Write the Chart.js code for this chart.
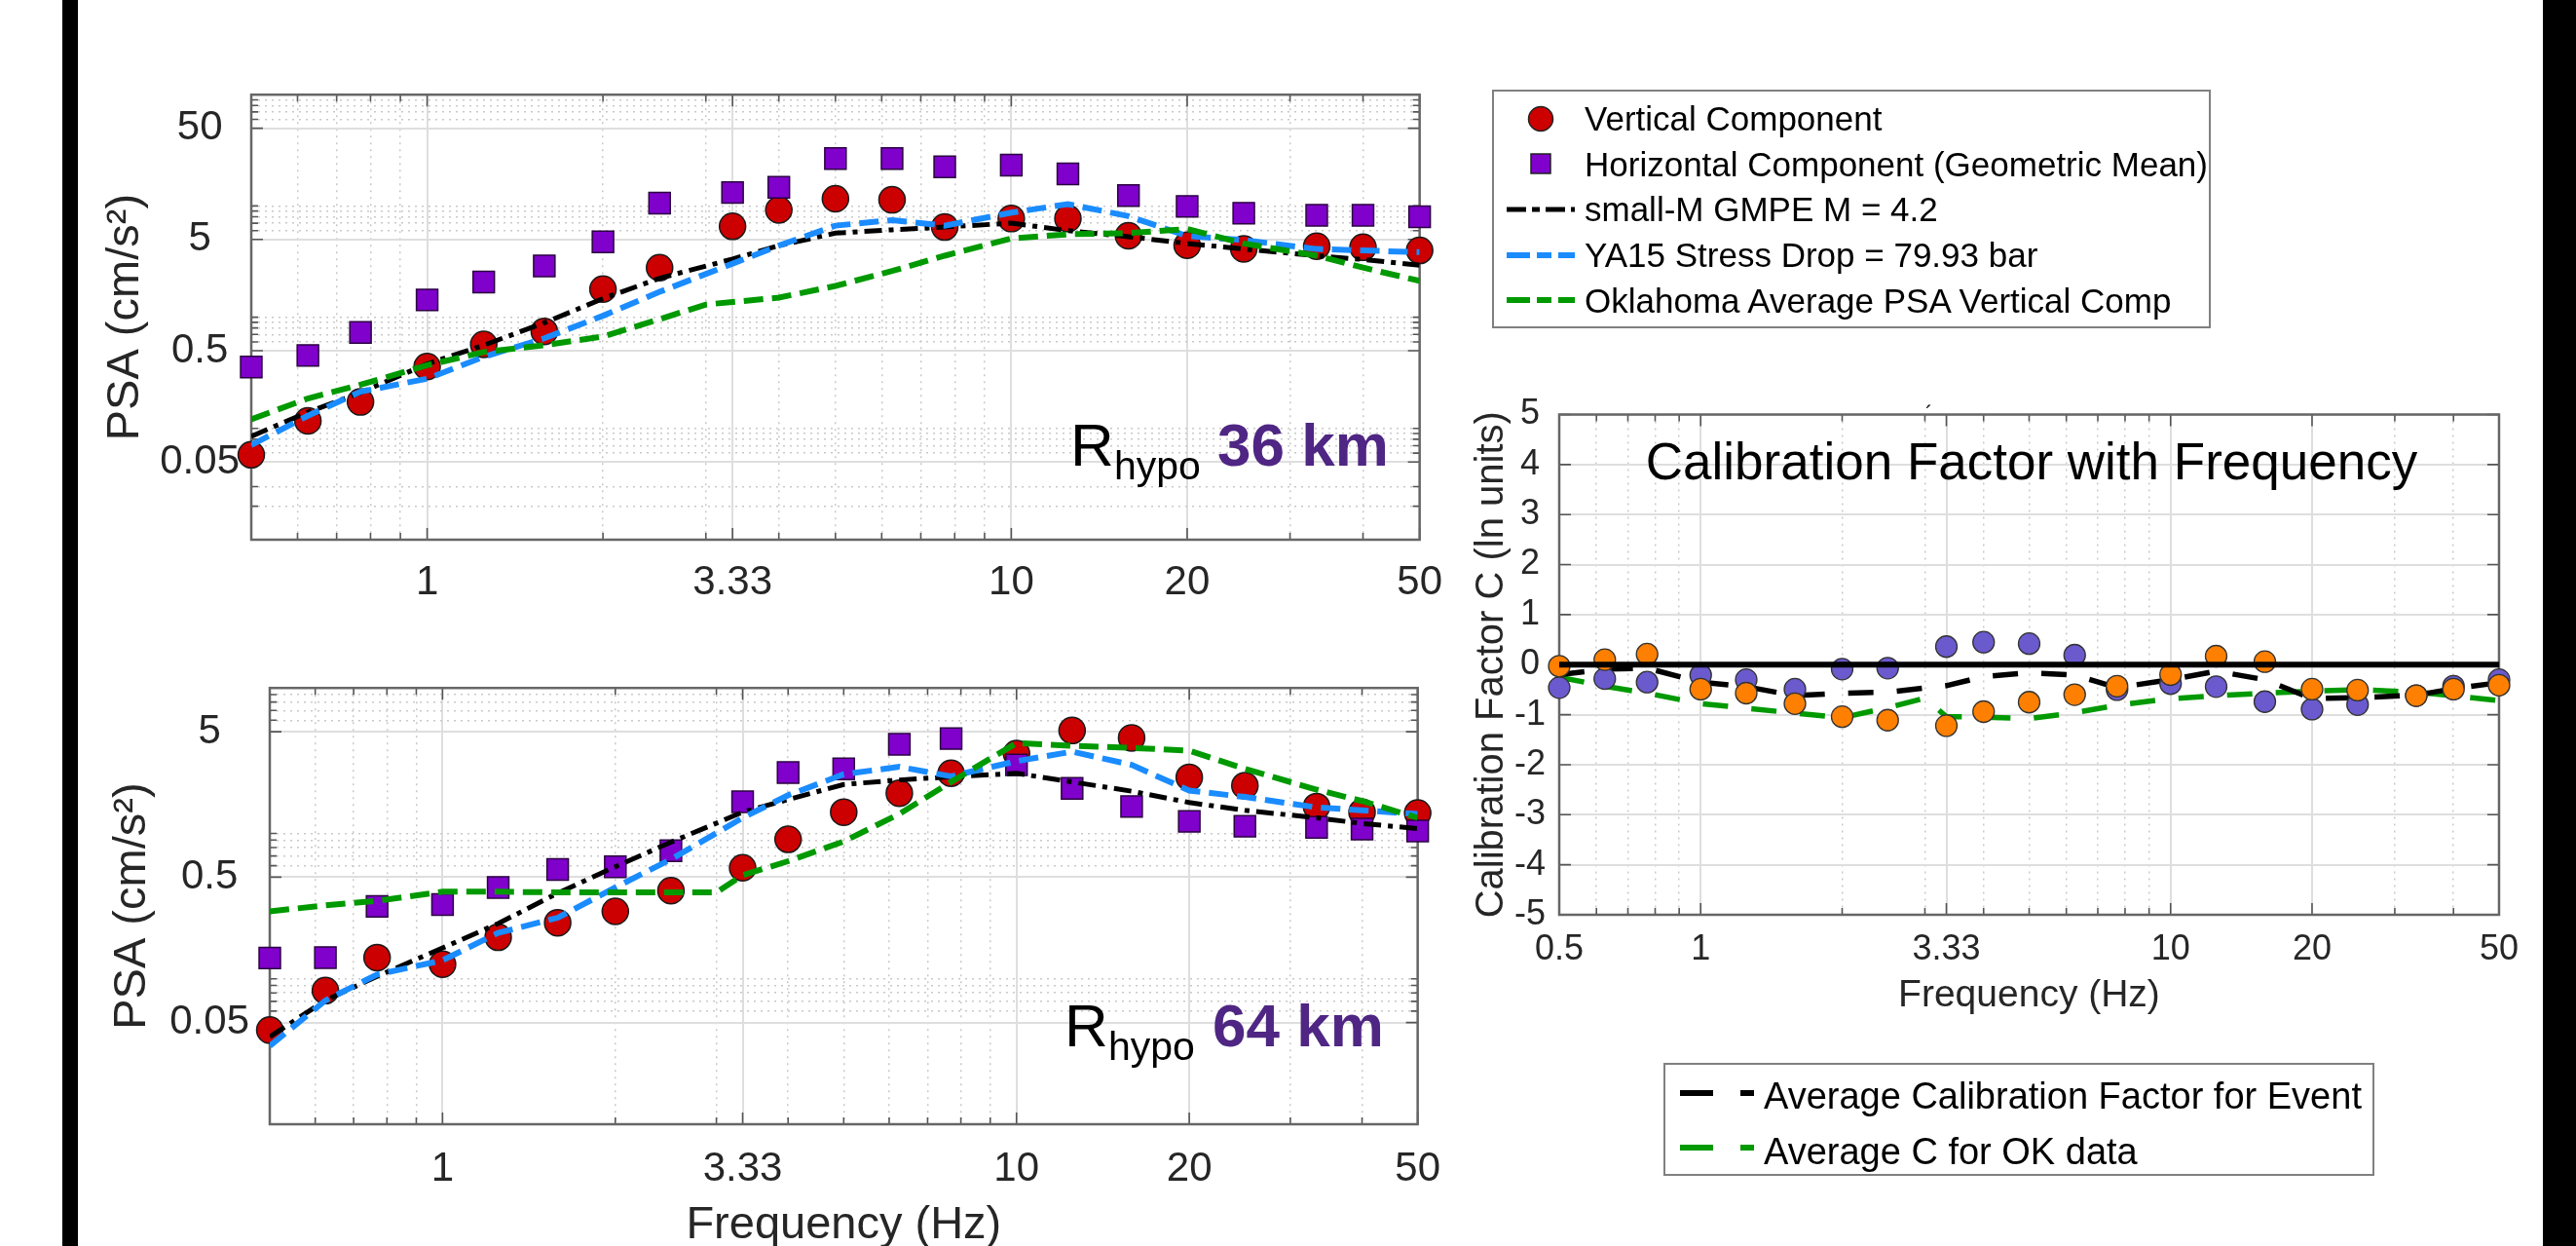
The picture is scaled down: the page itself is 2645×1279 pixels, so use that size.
<!DOCTYPE html>
<html>
<head>
<meta charset="utf-8">
<script src="https://cdn.jsdelivr.net/npm/chart.js@4.4.1/dist/chart.umd.min.js"></script>
<style>
  body { margin: 0; width: 2645px; height: 1279px; overflow: hidden; background: #fff; position: relative; }
  canvas { position: absolute; }
  #ov { position: absolute; left: 0; top: 0; pointer-events: none; }
</style>
</head>
<body>
<canvas id="c36" width="1399" height="580" style="left:101px;top:60px"></canvas>
<canvas id="c64" width="1392" height="640" style="left:108px;top:660px"></canvas>
<canvas id="cal" width="1092" height="680" style="left:1508px;top:380px"></canvas>

<svg id="ov" width="2645" height="1279" font-family="'Liberation Sans', Arial, sans-serif">
  <rect x="64" y="0" width="16" height="1279" fill="#000"/>
  <rect x="2611" y="0" width="34" height="1279" fill="#000"/>

  <!-- legend of the PSA panels -->
  <rect x="1533" y="93" width="736" height="243" fill="#fff" stroke="#808080" stroke-width="2"/>
  <circle cx="1582" cy="122" r="12.5" fill="#cc0000" stroke="#222" stroke-width="1.5"/>
  <rect x="1572" y="158" width="20" height="20" fill="#8000cc" stroke="#222" stroke-width="1.5"/>
  <line x1="1547" y1="215" x2="1617" y2="215" stroke="#000" stroke-width="5" stroke-dasharray="20 6 8 6"/>
  <line x1="1547" y1="262" x2="1617" y2="262" stroke="#1a8cff" stroke-width="6" stroke-dasharray="24 7 15 7"/>
  <line x1="1547" y1="308" x2="1617" y2="308" stroke="#009900" stroke-width="6" stroke-dasharray="24 7 15 7"/>
  <g font-size="35" fill="#000">
    <text x="1627" y="134">Vertical Component</text>
    <text x="1627" y="181">Horizontal Component (Geometric Mean)</text>
    <text x="1627" y="227">small-M GMPE M = 4.2</text>
    <text x="1627" y="274">YA15 Stress Drop = 79.93 bar</text>
    <text x="1627" y="321">Oklahoma Average PSA Vertical Comp</text>
  </g>

  <!-- distance labels -->
  <text x="1099" y="478" font-size="62" fill="#000">R</text>
  <text x="1144" y="492" font-size="41" fill="#000">hypo</text>
  <text x="1250" y="478" font-size="62" font-weight="bold" fill="#4f2683">36 km</text>
  <text x="1093" y="1074" font-size="62" fill="#000">R</text>
  <text x="1138" y="1088" font-size="41" fill="#000">hypo</text>
  <text x="1245" y="1074" font-size="62" font-weight="bold" fill="#4f2683">64 km</text>

  <!-- calibration panel title -->
  <text x="1977" y="432" font-size="22" fill="#000">´</text>
  <text x="2086" y="492" font-size="53" fill="#000" text-anchor="middle">Calibration Factor with Frequency</text>

  <!-- legend of the calibration panel -->
  <rect x="1709" y="1092" width="728" height="114" fill="#fff" stroke="#808080" stroke-width="2"/>
  <line x1="1725" y1="1122" x2="1801" y2="1122" stroke="#000" stroke-width="6" stroke-dasharray="34 28 14 100"/>
  <line x1="1725" y1="1178" x2="1801" y2="1178" stroke="#009900" stroke-width="6" stroke-dasharray="34 28 14 100"/>
  <g font-size="38" fill="#000">
    <text x="1811" y="1138">Average Calibration Factor for Event</text>
    <text x="1811" y="1195">Average C for OK data</text>
  </g>
</svg>

<script>
// frequencies (Hz)
const freqs   = [0.5, 0.625, 0.769, 1, 1.25, 1.587, 2, 2.5, 3.333, 4, 5, 6.25, 7.692, 10, 12.5, 15.87, 20, 25, 33.33, 40, 50];
const freqsOK = [0.5, 0.625, 0.769, 1, 1.25, 1.587, 2, 2.5, 3, 3.333, 4, 5, 6.25, 7.692, 10, 12.5, 15.87, 20, 25, 33.33, 40, 50];

// PSA, Rhypo 36 km
const vert36  = [0.058, 0.117, 0.173, 0.36, 0.57, 0.745, 1.79, 2.79, 6.56, 9.2, 11.6, 11.35, 6.46, 7.7, 7.7, 5.4, 4.43, 4.12, 4.34, 4.25, 3.98];
const horiz36 = [0.357, 0.453, 0.73, 1.43, 2.07, 2.89, 4.75, 10.6, 13.2, 14.7, 26.7, 26.7, 22.5, 23.3, 19.4, 12.4, 9.9, 8.6, 8.24, 8.24, 8.0];
const gmpe36  = [0.085, 0.14, 0.21, 0.38, 0.56, 0.89, 1.47, 2.24, 3.33, 4.4, 5.7, 6.1, 6.46, 7.0, 6.0, 5.3, 4.6, 4.1, 3.57, 3.3, 2.93];
const ya36    = [0.071, 0.13, 0.214, 0.28, 0.44, 0.646, 1.03, 1.69, 3.03, 4.4, 6.65, 7.45, 6.65, 8.7, 10.4, 8.1, 5.37, 4.93, 4.1, 3.98, 3.84];
const ok36    = [0.121, 0.186, 0.247, 0.37, 0.486, 0.56, 0.67, 0.96, 1.3, 1.37, 1.5, 1.91, 2.6, 3.57, 5.1, 5.56, 5.7, 6.2, 4.6, 3.57, 2.79, 2.12];

// PSA, Rhypo 64 km
const vert64  = [0.0444, 0.083, 0.14, 0.126, 0.193, 0.243, 0.291, 0.404, 0.58, 0.91, 1.4, 1.89, 2.59, 3.54, 5.1, 4.54, 2.43, 2.13, 1.53, 1.4, 1.38];
const horiz64 = [0.139, 0.14, 0.315, 0.324, 0.425, 0.565, 0.59, 0.76, 1.65, 2.62, 2.78, 4.1, 4.49, 2.96, 2.04, 1.53, 1.21, 1.12, 1.1, 1.07, 1.04];
const gmpe64  = [0.04, 0.071, 0.104, 0.163, 0.24, 0.388, 0.59, 0.87, 1.4, 1.71, 2.17, 2.33, 2.45, 2.59, 2.26, 1.95, 1.63, 1.44, 1.28, 1.17, 1.08];
const ya64    = [0.0345, 0.071, 0.107, 0.134, 0.207, 0.263, 0.425, 0.664, 1.28, 1.83, 2.55, 2.87, 2.47, 3.14, 3.65, 2.96, 1.97, 1.78, 1.51, 1.44, 1.36];
const ok64    = [0.291, 0.32, 0.344, 0.397, 0.397, 0.393, 0.393, 0.393, 0.393, 0.516, 0.644, 0.88, 1.36, 2.26, 4.18, 4.0, 3.87, 3.71, 2.78, 2.0, 1.67, 1.28];

// calibration factor C (ln units)
const cHoriz = [-0.46, -0.28, -0.35, -0.21, -0.3, -0.49, -0.09, -0.07, 0.36, 0.45, 0.42, 0.19, -0.5, -0.38, -0.44, -0.74, -0.89, -0.8, -0.62, -0.43, -0.3];
const cVert  = [-0.03, 0.1, 0.21, -0.49, -0.57, -0.78, -1.04, -1.11, -1.22, -0.94, -0.75, -0.6, -0.43, -0.2, 0.17, 0.06, -0.49, -0.51, -0.62, -0.49, -0.41];
const cAvg   = [-0.2, -0.09, -0.07, -0.35, -0.44, -0.62, -0.57, -0.55, -0.42, -0.24, -0.16, -0.21, -0.46, -0.3, -0.13, -0.3, -0.68, -0.66, -0.61, -0.48, -0.36];
const cOK    = [-0.25, -0.43, -0.57, -0.78, -0.87, -0.97, -1.06, -0.86, -0.67, -1.04, -1.05, -1.08, -0.96, -0.81, -0.68, -0.62, -0.57, -0.53, -0.5, -0.55, -0.62, -0.72];
const zeroX  = [0.5, 50];
const zeroY  = [0, 0];

// ticks
const xTicks      = [0.5, 0.6, 0.7, 0.8, 0.9, 1, 2, 3, 3.333, 4, 5, 6, 7, 8, 9, 10, 20, 30, 40, 50];
const xMajor      = [0.5, 1, 3.333, 10, 20, 50];
const xLabelVals  = [1, 3.333, 10, 20, 50];
const xLabelText  = ['1', '3.33', '10', '20', '50'];
const xLabelVals2 = [0.5, 1, 3.333, 10, 20, 50];
const xLabelText2 = ['0.5', '1', '3.33', '10', '20', '50'];
const yTicks36    = [0.02, 0.03, 0.05, 0.06, 0.07, 0.08, 0.09, 0.1, 0.5, 0.6, 0.7, 0.8, 0.9, 1, 5, 6, 7, 8, 9, 10, 50, 60, 70, 80, 90];
const yLabels36   = [0.05, 0.5, 5, 50];
const yTicks64    = [0.05, 0.06, 0.07, 0.08, 0.09, 0.1, 0.5, 0.6, 0.7, 0.8, 0.9, 1, 5, 6, 7, 8, 9];
const yLabels64   = [0.05, 0.5, 5];

Chart.defaults.font.family = "'Liberation Sans', Arial, sans-serif";
Chart.defaults.color = '#262626';

function pairs(xs, ys) {
  return xs.map((x, i) => ({ x: x, y: ys[i] }));
}

// which ticks get the long inside tick mark
const boxMajors = {
  c36: { x: xMajor, y: yLabels36 },
  c64: { x: xMajor, y: yLabels64 },
  cal: { x: xMajor, y: null }
};

// MATLAB style box with inward ticks
const matlabBox = {
  id: 'matlabBox',
  beforeDatasetsDraw(chart) {
    const { ctx, chartArea: a } = chart;
    const sx = chart.scales.x, sy = chart.scales.y;
    const maj = boxMajors[chart.canvas.id];
    ctx.save();
    ctx.setLineDash([]);
    ctx.strokeStyle = '#555';
    ctx.lineWidth = 1.6;
    sx.ticks.forEach(t => {
      const p = sx.getPixelForValue(t.value);
      const len = maj.x.includes(t.value) ? 12 : 7;
      ctx.beginPath();
      ctx.moveTo(p, a.bottom); ctx.lineTo(p, a.bottom - len);
      ctx.moveTo(p, a.top); ctx.lineTo(p, a.top + len);
      ctx.stroke();
    });
    sy.ticks.forEach(t => {
      const p = sy.getPixelForValue(t.value);
      const len = (!maj.y || maj.y.includes(t.value)) ? 12 : 7;
      ctx.beginPath();
      ctx.moveTo(a.left, p); ctx.lineTo(a.left + len, p);
      ctx.moveTo(a.right, p); ctx.lineTo(a.right - len, p);
      ctx.stroke();
    });
    ctx.strokeStyle = '#666';
    ctx.lineWidth = 2.5;
    ctx.strokeRect(a.left, a.top, a.right - a.left, a.bottom - a.top);
    ctx.restore();
  }
};

function isMajor(c, majors) {
  return !majors || (c.tick && majors.includes(c.tick.value));
}
function gridOpts(majors) {
  return {
    drawTicks: false,
    color: c => isMajor(c, majors) ? '#dedede' : '#c9c9c9',
    lineWidth: c => isMajor(c, majors) ? 2 : 1.5
  };
}
function borderOpts(majors) {
  return {
    display: false,
    dash: c => (c.type === 'tick' && !isMajor(c, majors)) ? [2, 5] : []
  };
}
function labelFrom(vals, texts) {
  return v => {
    const i = vals.indexOf(v);
    return i < 0 ? '' : texts[i];
  };
}

function psaDatasets(vert, horiz, gmpe, ya, ok) {
  return [
    { label: 'Vertical Component', data: pairs(freqs, vert), showLine: false, pointStyle: 'circle',
      pointRadius: 13.5, pointBackgroundColor: '#cc0000', pointBorderColor: '#1a1a1a', pointBorderWidth: 1.5, clip: false, order: 5 },
    { label: 'Horizontal Component (Geometric Mean)', data: pairs(freqs, horiz), showLine: false, pointStyle: 'rect',
      pointRadius: 15.5, pointBackgroundColor: '#8000cc', pointBorderColor: '#2a0040', pointBorderWidth: 1.5, clip: false, order: 4 },
    { label: 'small-M GMPE M = 4.2', data: pairs(freqs, gmpe), borderColor: '#000', borderWidth: 5,
      borderDash: [18, 7, 5, 7], pointRadius: 0, order: 3 },
    { label: 'YA15 Stress Drop = 79.93 bar', data: pairs(freqs, ya), borderColor: '#1a8cff', borderWidth: 6,
      borderDash: [20, 9], pointRadius: 0, order: 2 },
    { label: 'Oklahoma Average PSA Vertical Comp', data: pairs(freqsOK, ok), borderColor: '#009900', borderWidth: 6,
      borderDash: [20, 9], pointRadius: 0, order: 1 }
  ];
}

function psaChart(id, ds, yMin, yMax, yTicks, yLabels, o) {
  return new Chart(document.getElementById(id), {
    type: 'line',
    data: { datasets: ds },
    plugins: [matlabBox],
    options: {
      responsive: false, animation: false, devicePixelRatio: 1,
      layout: { padding: { top: o.top, right: o.right, left: 0, bottom: 0 } },
      plugins: { legend: { display: false }, tooltip: { enabled: false } },
      scales: {
        x: {
          type: 'logarithmic', min: 0.5, max: 50,
          afterBuildTicks: s => { s.ticks = xTicks.map(v => ({ value: v })); },
          afterFit: s => { s.height = o.xh; },
          ticks: { autoSkip: false, maxRotation: 0, minRotation: 0, font: { size: 42 }, padding: o.xpad,
                   callback: labelFrom(xLabelVals, xLabelText) },
          grid: gridOpts(xMajor), border: borderOpts(xMajor),
          title: { display: !!o.xtitle, text: o.xtitle || '', font: { size: 47 }, padding: { top: 0, bottom: o.xtpad || 0 } }
        },
        y: {
          type: 'logarithmic', min: yMin, max: yMax,
          afterBuildTicks: s => { s.ticks = yTicks.map(v => ({ value: v })); },
          afterFit: s => { s.width = o.yw; },
          ticks: { autoSkip: false, font: { size: 42 }, padding: o.ypad, crossAlign: 'center',
                   callback: v => yLabels.includes(v) ? String(v) : '' },
          grid: gridOpts(yLabels), border: borderOpts(yLabels),
          title: { display: true, text: 'PSA (cm/s²)', font: { size: 47 }, padding: 0 }
        }
      }
    }
  });
}

psaChart('c36', psaDatasets(vert36, horiz36, gmpe36, ya36, ok36), 0.01, 100, yTicks36, yLabels36,
  { top: 30, right: 20, xh: 86, yw: 157, xpad: 19, ypad: 12, });

psaChart('c64', psaDatasets(vert64, horiz64, gmpe64, ya64, ok64), 0.01, 10, yTicks64, yLabels64,
  { top: 37, right: 22, xh: 146, yw: 169, xpad: 21, ypad: 21, xtitle: 'Frequency (Hz)', xtpad: 14 });

// calibration factor panel
new Chart(document.getElementById('cal'), {
  type: 'line',
  data: {
    datasets: [
      { label: 'zero', data: pairs(zeroX, zeroY), borderColor: '#000', borderWidth: 6, pointRadius: 0, order: 1 },
      { label: 'Vertical', data: pairs(freqs, cVert), showLine: false, pointStyle: 'circle', pointRadius: 11,
        pointBackgroundColor: '#ff8000', pointBorderColor: '#333', pointBorderWidth: 1.3, clip: false, order: 2 },
      { label: 'Horizontal', data: pairs(freqs, cHoriz), showLine: false, pointStyle: 'circle', pointRadius: 11,
        pointBackgroundColor: '#6a5acd', pointBorderColor: '#333', pointBorderWidth: 1.3, clip: false, order: 3 },
      { label: 'Average Calibration Factor for Event', data: pairs(freqs, cAvg), borderColor: '#000', borderWidth: 5.5,
        borderDash: [26, 24], pointRadius: 0, order: 4 },
      { label: 'Average C for OK data', data: pairs(freqsOK, cOK), borderColor: '#009900', borderWidth: 5.5,
        borderDash: [26, 24], pointRadius: 0, order: 5 }
    ]
  },
  plugins: [matlabBox],
  options: {
    responsive: false, animation: false, devicePixelRatio: 1,
    layout: { padding: { top: 45.5, right: 15, left: 0, bottom: 0 } },
    plugins: { legend: { display: false }, tooltip: { enabled: false } },
    scales: {
      x: {
        type: 'logarithmic', min: 0.5, max: 50,
        afterBuildTicks: s => { s.ticks = xTicks.map(v => ({ value: v })); },
        afterFit: s => { s.height = 121; },
        ticks: { autoSkip: false, maxRotation: 0, minRotation: 0, font: { size: 36 }, padding: 14,
                 callback: labelFrom(xLabelVals2, xLabelText2) },
        grid: gridOpts(xMajor), border: borderOpts(xMajor),
        title: { display: true, text: 'Frequency (Hz)', font: { size: 39 }, padding: { top: 0, bottom: 14 } }
      },
      y: {
        type: 'linear', min: -5, max: 5,
        afterFit: s => { s.width = 93; },
        ticks: { stepSize: 1, font: { size: 36 }, padding: 14, crossAlign: 'center' },
        grid: gridOpts(null), border: borderOpts(null),
        title: { display: true, text: 'Calibration Factor C (ln units)', font: { size: 40 }, padding: 0 }
      }
    }
  }
});
</script>
</body>
</html>
